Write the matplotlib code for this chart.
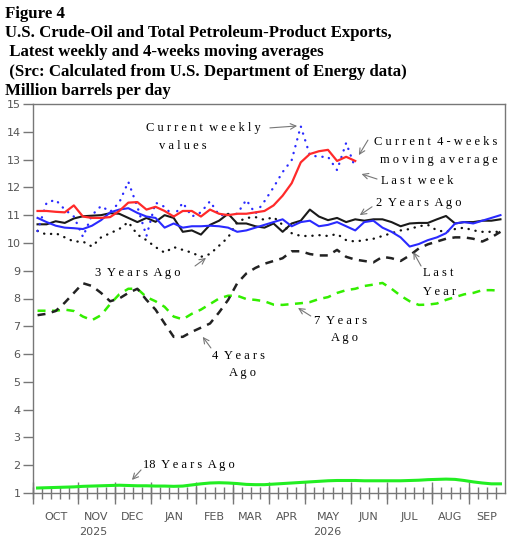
import numpy as np
import matplotlib
matplotlib.use("Agg")
import matplotlib.pyplot as plt

# weekly series, Oct .. Sep (52 weeks), million barrels per day
current_weekly = [10.43, 11.45, 11.55, 11.2, 10.95, 10.22, 11.0, 11.33, 11.12, 11.45,
                  12.2, 11.3, 10.25, 11.45, 11.3, 10.95, 11.45, 10.95, 11.1, 11.5,
                  11.0, 11.0, 11.05, 11.55, 11.05, 11.5, 12.0, 12.55, 12.98, 14.2,
                  13.16, 13.1, 13.1, 12.62, 13.6, 12.7]
current_4wk = [11.15, 11.15, 11.12, 11.1, 11.35, 10.95, 10.9, 10.9, 10.93, 11.15,
               11.45, 11.47, 11.2, 11.3, 11.15, 10.95, 11.15, 11.15, 10.95, 11.2,
               11.05, 11.0, 11.05, 11.05, 11.1, 11.15, 11.35, 11.7, 12.15, 12.9,
               13.2, 13.3, 13.35, 12.95, 13.1, 12.95]
last_year = [10.9, 10.75, 10.62, 10.55, 10.53, 10.5, 10.62, 10.82, 11.1, 11.2,
             11.25, 11.08, 10.95, 10.9, 10.55, 10.7, 10.55, 10.6, 10.6, 10.62,
             10.6, 10.55, 10.4, 10.45, 10.55, 10.65, 10.75, 10.85, 10.6, 10.75,
             10.8, 10.6, 10.65, 10.75, 10.6, 10.45, 10.75, 10.8, 10.55, 10.4,
             10.2, 9.87, 9.96, 10.1, 10.2, 10.35, 10.7, 10.75, 10.7, 10.8,
             10.9, 11.0]
two_years = [10.67, 10.67, 10.78, 10.72, 10.88, 10.96, 10.98, 11.0, 11.07, 11.05,
             10.9, 10.75, 10.9, 10.76, 11.0, 10.9, 10.4, 10.45, 10.3, 10.65,
             10.8, 11.05, 10.7, 10.7, 10.6, 10.55, 10.7, 10.4, 10.7, 10.8,
             11.2, 10.95, 10.82, 10.9, 10.75, 10.85, 10.8, 10.85, 10.85, 10.75,
             10.6, 10.7, 10.72, 10.72, 10.85, 10.97, 10.7, 10.75, 10.75, 10.8,
             10.8, 10.85]
three_years = [10.43, 10.3, 10.35, 10.2, 10.05, 10.05, 9.87, 10.2, 10.35, 10.5,
               10.75, 10.3, 10.1, 9.85, 9.65, 9.85, 9.75, 9.65, 9.5, 9.6,
               9.9, 10.2, 10.75, 10.9, 10.93, 10.83, 10.93, 10.65, 10.35, 10.25,
               10.25, 10.28, 10.25, 10.32, 10.1, 10.05, 10.1, 10.15, 10.25, 10.35,
               10.45, 10.5, 10.6, 10.65, 10.45, 10.4, 10.5, 10.55, 10.45, 10.4,
               10.4, 10.4]
four_years = [7.4, 7.45, 7.55, 7.85, 8.2, 8.55, 8.45, 8.2, 7.9, 8.0,
              8.2, 8.35, 7.95, 7.6, 7.1, 6.62, 6.62, 6.8, 6.95, 7.1,
              7.5, 7.95, 8.55, 8.9, 9.1, 9.25, 9.35, 9.45, 9.7, 9.7,
              9.6, 9.55, 9.55, 9.75, 9.5, 9.4, 9.35, 9.3, 9.5, 9.45,
              9.35, 9.55, 9.8, 9.95, 10.05, 10.15, 10.2, 10.2, 10.15, 10.05,
              10.2, 10.4]
seven_years = [7.56, 7.56, 7.56, 7.6, 7.55, 7.35, 7.22, 7.4, 7.8, 8.15,
               8.35, 8.35, 8.05, 7.9, 7.7, 7.35, 7.25, 7.45, 7.6, 7.8,
               8.0, 8.1, 8.1, 7.98, 7.95, 7.9, 7.78, 7.77, 7.8, 7.83,
               7.87, 7.98, 8.05, 8.2, 8.3, 8.35, 8.45, 8.5, 8.56, 8.35,
               8.1, 7.9, 7.77, 7.78, 7.82, 7.95, 8.05, 8.15, 8.2, 8.3,
               8.3, 8.28]
eighteen_years = [1.18, 1.19, 1.2, 1.21, 1.22, 1.24, 1.25, 1.26, 1.27, 1.28,
                  1.27, 1.26, 1.26, 1.25, 1.25, 1.24, 1.25, 1.29, 1.33, 1.36,
                  1.37, 1.36, 1.34, 1.31, 1.3, 1.3, 1.32, 1.34, 1.36, 1.38,
                  1.4, 1.42, 1.44, 1.45, 1.45, 1.45, 1.44, 1.44, 1.44, 1.44,
                  1.44, 1.45, 1.46, 1.48, 1.49, 1.5, 1.49, 1.45, 1.4, 1.36,
                  1.33, 1.33]

months = ["OCT", "NOV", "DEC", "JAN", "FEB", "MAR", "APR", "MAY", "JUN", "JUL", "AUG", "SEP"]
month_start_week = [0, 5, 9, 13, 18, 22, 26, 30, 35, 39, 44, 48]
n_weeks = 52

title_lines = ["Figure 4",
               "U.S. Crude-Oil and Total Petroleum-Product Exports,",
               " Latest weekly and 4-weeks moving averages",
               " (Src: Calculated from U.S. Department of Energy data)",
               "Million barrels per day"]


def spaced(s):
    return " ".join(s)


fig = plt.figure(figsize=(5.12, 5.37), dpi=100)
ax = fig.add_axes([33 / 512, 44 / 537, 472 / 512, 389 / 537])

for k, line in enumerate(title_lines):
    fig.text(5 / 512, 1 - (18 + 19.2 * k) / 537, line, family="Liberation Serif",
             weight="bold", fontsize=12.1, va="baseline", ha="left")

x_full = np.arange(n_weeks) + 0.5
x_cur = np.arange(len(current_4wk)) + 0.5

dash = (0, (3.2, 2.6))
dot = (0, (0.1, 2.9))
ax.plot(x_full, eighteen_years, color="#22ee22", lw=2.2)
ax.plot(x_full, seven_years, color="#33ee00", lw=1.8, ls=dash)
ax.plot(x_full, four_years, color="#222222", lw=1.8, ls=dash)
ax.plot(x_full, three_years, color="#111111", lw=1.7, ls=dot, dash_capstyle="round")
ax.plot(x_full, two_years, color="#1a1a1a", lw=1.5)
ax.plot(x_full, last_year, color="#2a2aff", lw=1.5)
ax.plot(x_cur, current_weekly, color="#2a2aff", lw=1.7, ls=dot, dash_capstyle="round")
ax.plot(x_cur, current_4wk, color="#ff2a2a", lw=1.6)

ax.set_xlim(0, n_weeks)
ax.set_ylim(1, 15)

# axes styling
for side in ["top", "right", "bottom", "left"]:
    ax.spines[side].set_color("#777777")
    ax.spines[side].set_linewidth(1.0)
ax.set_yticks(range(1, 16))
ax.tick_params(axis="y", direction="out", length=7, width=1, color="#777777",
               labelcolor="#555555", labelsize=8, pad=2)
ax.xaxis.remove_overlapping_locs = False
ax.set_xticks(month_start_week)
ax.set_xticks(range(n_weeks), minor=True)
ax.set_xticklabels([])
ax.tick_params(axis="x", which="major", direction="inout", length=16, width=1, color="#777777")
ax.tick_params(axis="x", which="minor", direction="inout", length=8, width=1, color="#777777")

trans = ax.get_xaxis_transform()
edges = month_start_week + [n_weeks]
for k, m in enumerate(months):
    mid = (edges[k] + edges[k + 1]) / 2
    ax.text(mid, -0.062, m, transform=trans, ha="center", va="center",
            fontsize=8, color="#555555")
ax.text(6.6, -0.1, "2025", transform=trans, ha="center", va="center", fontsize=8, color="#555555")
ax.text(32.4, -0.1, "2026", transform=trans, ha="center", va="center", fontsize=8, color="#555555")

# annotations
note = dict(family="Liberation Serif", fontsize=9, color="black", va="center")
arrow = dict(arrowstyle="->", color="#777777", lw=0.8, shrinkA=0, shrinkB=0)

ax.text(18.8, 14.14, spaced("Current") + "  " + spaced("weekly"), ha="center", **note)
ax.text(16.5, 13.49, spaced("values"), ha="center", **note)
ax.annotate("", xy=(29.1, 14.21), xytext=(26.1, 14.14), arrowprops=arrow)

ax.text(51.2, 13.63, spaced("Current") + "  " + spaced("4-weeks"), ha="right", **note)
ax.text(51.2, 12.98, spaced("moving") + "  " + spaced("average"), ha="right", **note)
ax.annotate("", xy=(35.9, 13.16), xytext=(36.9, 13.7), arrowprops=arrow)

ax.text(38.3, 12.23, spaced("Last") + "  " + spaced("week"), ha="left", **note)
ax.annotate("", xy=(36.2, 12.48), xytext=(37.9, 12.3), arrowprops=arrow)

ax.text(37.8, 11.44, "2  " + spaced("Years") + "  " + spaced("Ago"), ha="left", **note)
ax.annotate("", xy=(36.0, 11.0), xytext=(37.35, 11.3), arrowprops=arrow)

ax.text(6.8, 8.92, "3  " + spaced("Years") + "  " + spaced("Ago"), ha="left", **note)
ax.annotate("", xy=(19.06, 9.46), xytext=(17.85, 9.17), arrowprops=arrow)

ax.text(43.0, 8.92, spaced("Last"), ha="left", **note)
ax.text(43.0, 8.24, spaced("Year"), ha="left", **note)
ax.annotate("", xy=(41.9, 9.67), xytext=(42.75, 9.17), arrowprops=arrow)

ax.text(19.7, 5.93, "4  " + spaced("Years"), ha="left", **note)
ax.text(21.6, 5.32, spaced("Ago"), ha="left", **note)
ax.annotate("", xy=(18.7, 6.62), xytext=(19.6, 6.22), arrowprops=arrow)

ax.text(30.95, 7.19, "7  " + spaced("Years"), ha="left", **note)
ax.text(32.8, 6.58, spaced("Ago"), ha="left", **note)
ax.annotate("", xy=(29.2, 7.66), xytext=(30.6, 7.37), arrowprops=arrow)

ax.text(12.1, 2.01, "18  " + spaced("Years") + "  " + spaced("Ago"), ha="left", **note)
ax.annotate("", xy=(10.9, 1.47), xytext=(11.9, 1.83), arrowprops=arrow)

fig.savefig("out.png", dpi=100)
